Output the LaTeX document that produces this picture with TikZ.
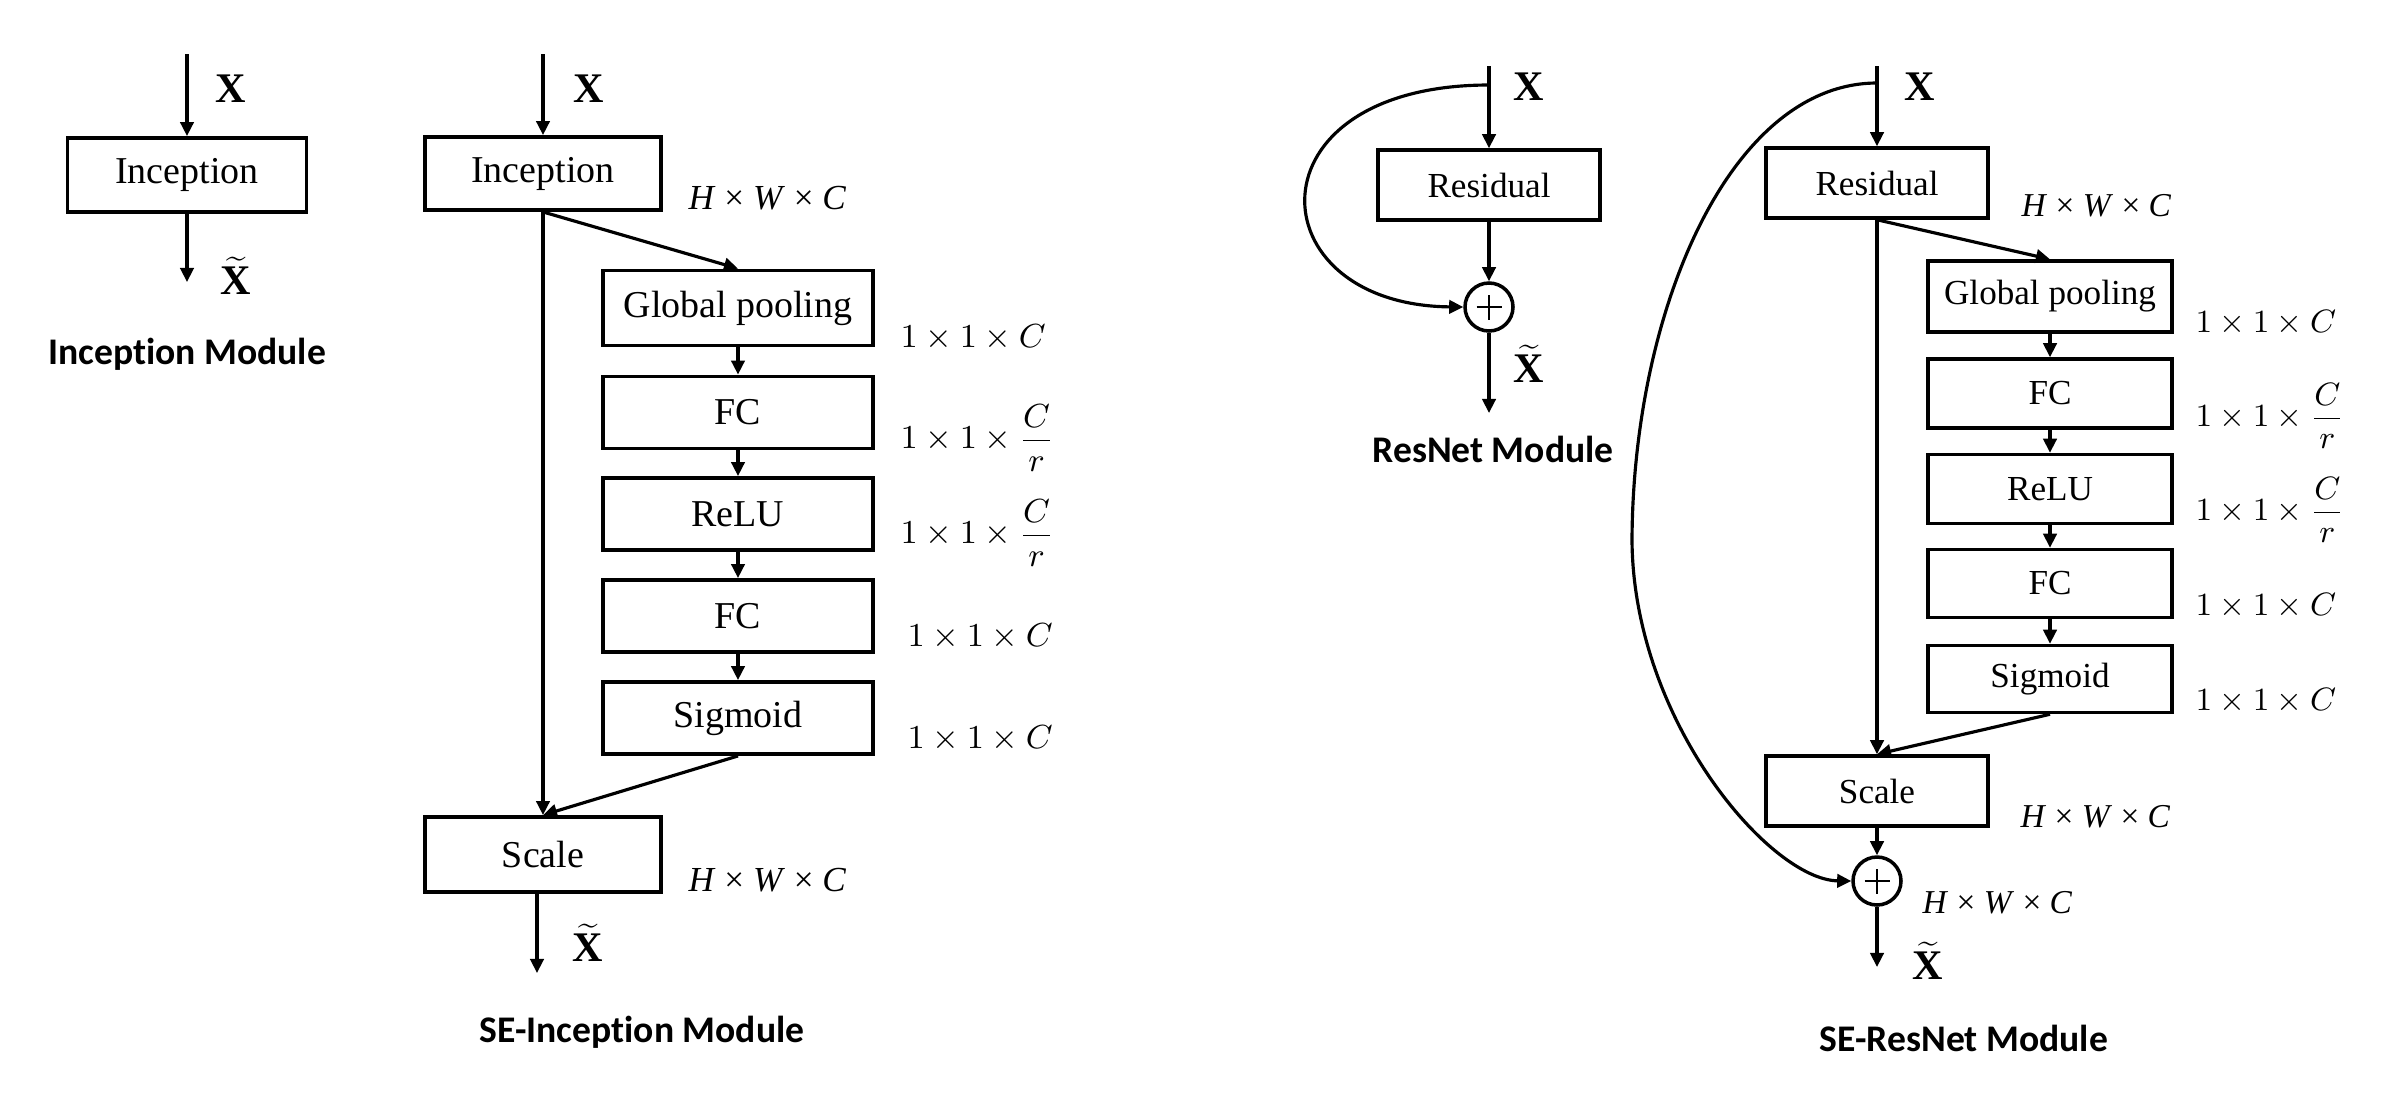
\RequirePackage{fix-cm}
\documentclass[tikz,border=0pt]{standalone}
\usepackage{fontspec}
\setmainfont{Liberation Serif}
\newfontfamily\titlefont{Carlito}[Ligatures=NoCommon]
\usetikzlibrary{arrows.meta}
\tikzset{
  arr/.style={line width=0.9pt, -{Triangle[length=4pt,width=3.8pt]}},
  boxI/.style={draw, line width=1.1pt, inner sep=0pt, font=\fontsize{10.8}{12}\selectfont},
  boxR/.style={draw, line width=1pt, inner sep=0pt, font=\fontsize{10}{12}\selectfont},
  lab/.style={inner sep=0pt, anchor=west, font=\fontsize{9.5}{11}\selectfont},
  labR/.style={inner sep=0pt, anchor=west, font=\fontsize{9.2}{11}\selectfont},
  hwc/.style={inner sep=0pt, anchor=west, font=\fontsize{10}{12}\selectfont},
  hwcR/.style={inner sep=0pt, anchor=west, font=\fontsize{9.5}{12}\selectfont},
  xl/.style={inner sep=0pt, font=\fontsize{12}{14}\selectfont\bfseries},
  ttl/.style={inner sep=0pt, font=\fontsize{10.7}{13}\selectfont\titlefont\bfseries},
  addc/.style={draw, circle, line width=1pt, minimum size=4.8mm, inner sep=0pt},
}
\newcommand{\hwctext}{\textit{H} × \textit{W} × \textit{C}}
\newcommand{\xtil}{$\widetilde{\textbf{X}}$}
\begin{document}
\begin{tikzpicture}[x=0.1mm, y=-0.1mm]
\useasboundingbox (0,0) rectangle (2396,1092);

% ---------------- Inception Module ----------------
\coordinate (in0) at (187,54);
\node[boxI, minimum width=23.9mm, minimum height=7.4mm] (inc0) at (187,175) {Inception};
\coordinate (out0) at (187,282);
\draw[arr] (in0) -- (inc0);
\draw[arr] (inc0) -- (out0);
\node[xl] (x0) at (231,89) {X};
\node[xl] (xt0) at (236,276) {\xtil};
\node[ttl] (t0) at (187,354) {Inception Module};

% ---------------- SE-Inception Module ----------------
\coordinate (in1) at (543,54);
\node[boxI, minimum width=23.6mm, minimum height=7.3mm] (inc1) at (543,173.5) {Inception};
\node[hwc] (h1a) at (688,198) {\hwctext};
\node[boxI, minimum width=27mm, minimum height=7.5mm] (gp1) at (738,308) {Global pooling};
\node[boxI, minimum width=27mm, minimum height=7.2mm] (fc1a) at (738,412.5) {FC};
\node[boxI, minimum width=27mm, minimum height=7.2mm] (relu1) at (738,514) {ReLU};
\node[boxI, minimum width=27mm, minimum height=7.2mm] (fc1b) at (738,616) {FC};
\node[boxI, minimum width=27mm, minimum height=7.2mm] (sig1) at (738,718) {Sigmoid};
\node[boxI, minimum width=23.6mm, minimum height=7.5mm] (scale1) at (543,854.5) {Scale};
\coordinate (out1) at (537,973);
\node[lab] (l1a) at (900,338) {$1\times1\times C$};
\node[lab] (l1b) at (900,438) {$\displaystyle 1\times1\times\frac{C}{r}$};
\node[lab] (l1c) at (900,533) {$\displaystyle 1\times1\times\frac{C}{r}$};
\node[lab] (l1d) at (907,637) {$1\times1\times C$};
\node[lab] (l1e) at (907,739) {$1\times1\times C$};
\node[hwc] (h1b) at (688,880) {\hwctext};
\draw[arr] (in1) -- (inc1);
\draw[arr] (inc1.south) -- (gp1.north);
\draw[arr] (gp1) -- (fc1a);
\draw[arr] (fc1a) -- (relu1);
\draw[arr] (relu1) -- (fc1b);
\draw[arr] (fc1b) -- (sig1);
\draw[arr] (inc1.south) -- (scale1.north);
\draw[arr] (sig1.south) -- (scale1.north);
\draw[arr] (scale1.south -| out1) -- (out1);
\node[xl] (x1) at (589,89) {X};
\node[xl] (xt1) at (588,943) {\xtil};
\node[ttl] (t1) at (642,1032) {SE-Inception Module};

% ---------------- ResNet Module ----------------
\coordinate (in2) at (1489,66);
\coordinate (sp2) at (1489,85);
\node[boxR, minimum width=22.2mm, minimum height=7mm] (res2) at (1489,185) {Residual};
\node[addc] (add2) at (1489,307) {};
\draw[line width=0.45pt] ([xshift=-1.25mm]add2.center) -- ([xshift=1.25mm]add2.center);
\draw[line width=0.45pt] ([yshift=-1.25mm]add2.center) -- ([yshift=1.25mm]add2.center);
\coordinate (out2) at (1489,413);
\draw[arr] (in2) -- (res2);
\draw[arr] (res2) -- (add2);
\draw[arr] (add2) -- (out2);
\draw[arr] (sp2) .. controls (1245,85) and (1255,305) .. (add2.west);
\node[xl] (x2) at (1529,87) {X};
\node[xl] (xt2) at (1529,364) {\xtil};
\node[ttl] (t2) at (1493,449) {ResNet Module};

% ---------------- SE-ResNet Module ----------------
\coordinate (in3) at (1877,66);
\coordinate (sp3) at (1877,83);
\node[boxR, minimum width=22.2mm, minimum height=7mm] (res3) at (1877,183) {Residual};
\node[hwcR] (h3a) at (2021,206) {\hwctext};
\node[boxR, minimum width=24.4mm, minimum height=7.1mm] (gp3) at (2050,296.5) {Global pooling};
\node[boxR, minimum width=24.4mm, minimum height=6.9mm] (fc3a) at (2050,393.5) {FC};
\node[boxR, minimum width=24.4mm, minimum height=6.9mm] (relu3) at (2050,489) {ReLU};
\node[boxR, minimum width=24.4mm, minimum height=6.8mm] (fc3b) at (2050,583.5) {FC};
\node[boxR, minimum width=24.4mm, minimum height=6.7mm] (sig3) at (2050,679) {Sigmoid};
\node[boxR, minimum width=22.2mm, minimum height=7mm] (scale3) at (1877,791) {Scale};
\node[addc] (add3) at (1877,881) {};
\draw[line width=0.45pt] ([xshift=-1.25mm]add3.center) -- ([xshift=1.25mm]add3.center);
\draw[line width=0.45pt] ([yshift=-1.25mm]add3.center) -- ([yshift=1.25mm]add3.center);
\coordinate (out3) at (1877,967);
\coordinate (bend3) at (1632,540);
\node[labR] (l3a) at (2195,323) {$1\times1\times C$};
\node[labR] (l3b) at (2195,416) {$\displaystyle 1\times1\times\frac{C}{r}$};
\node[labR] (l3c) at (2195,510) {$\displaystyle 1\times1\times\frac{C}{r}$};
\node[labR] (l3d) at (2195,606) {$1\times1\times C$};
\node[labR] (l3e) at (2195,701) {$1\times1\times C$};
\node[hwcR] (h3b) at (2020,817) {\hwctext};
\node[hwcR] (h3c) at (1922,903) {\hwctext};
\draw[arr] (in3) -- (res3);
\draw[arr] (res3.south) -- (gp3.north);
\draw[arr] (gp3) -- (fc3a);
\draw[arr] (fc3a) -- (relu3);
\draw[arr] (relu3) -- (fc3b);
\draw[arr] (fc3b) -- (sig3);
\draw[arr] (res3.south) -- (scale3.north);
\draw[arr] (sig3.south) -- (scale3.north);
\draw[arr] (scale3) -- (add3);
\draw[arr] (add3) -- (out3);
\draw[arr] (sp3) .. controls (1730,83) and (1633,310) .. (bend3)
  .. controls (1633,720) and (1770,880) .. (add3.west);
\node[xl] (x3) at (1920,87) {X};
\node[xl] (xt3) at (1928,961) {\xtil};
\node[ttl] (t3) at (1964,1038) {SE-ResNet Module};
\end{tikzpicture}
\end{document}
